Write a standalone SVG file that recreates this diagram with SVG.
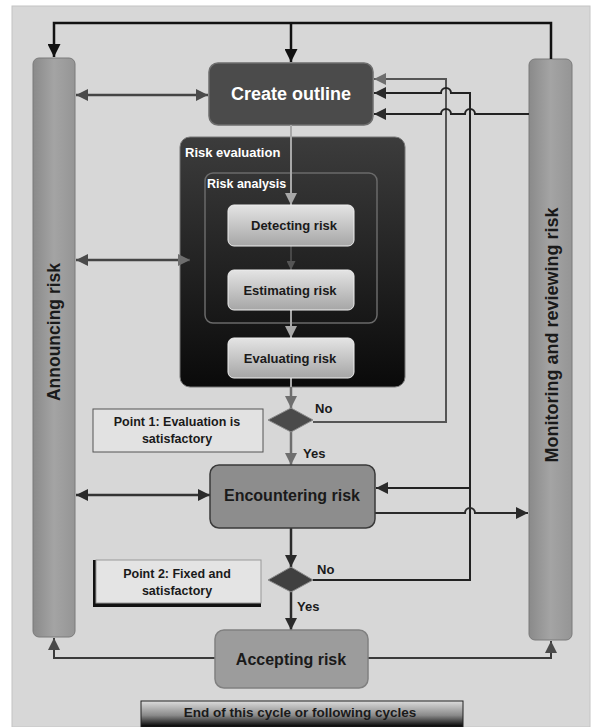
<svg xmlns="http://www.w3.org/2000/svg" width="593" height="727" viewBox="0 0 593 727">
<defs>
<style>
.t{font-family:"Liberation Sans",Arial,sans-serif;font-weight:bold;}
.w{fill:#ffffff;}
.d{fill:#1a1a1a;}
.c{fill:none;stroke-linejoin:miter;}
</style>
<linearGradient id="bar" x1="0" y1="0" x2="1" y2="0">
<stop offset="0" stop-color="#8a8a8a"/><stop offset="0.5" stop-color="#a4a4a4"/><stop offset="1" stop-color="#959595"/>
</linearGradient>
<linearGradient id="evalg" x1="0" y1="0" x2="0" y2="1">
<stop offset="0" stop-color="#3c3c3c"/><stop offset="1" stop-color="#0a0a0a"/>
</linearGradient>
<linearGradient id="inner" x1="0" y1="0" x2="0" y2="1">
<stop offset="0" stop-color="#e4e4e4"/><stop offset="1" stop-color="#a6a6a6"/>
</linearGradient>
<linearGradient id="endg" x1="0" y1="0" x2="0" y2="1">
<stop offset="0" stop-color="#dcdcdc"/><stop offset="0.55" stop-color="#8a8a8a"/><stop offset="1" stop-color="#000000"/>
</linearGradient>
<marker id="aK" viewBox="0 0 10 10" refX="10" refY="5" markerWidth="13" markerHeight="13" markerUnits="userSpaceOnUse" orient="auto-start-reverse"><path d="M0,0 L10,5 L0,10 z" fill="#111"/></marker>
<marker id="aD" viewBox="0 0 10 10" refX="10" refY="5" markerWidth="12" markerHeight="12" markerUnits="userSpaceOnUse" orient="auto-start-reverse"><path d="M0,0 L10,5 L0,10 z" fill="#2a2a2a"/></marker>
<marker id="aM" viewBox="0 0 10 10" refX="10" refY="5" markerWidth="12" markerHeight="12" markerUnits="userSpaceOnUse" orient="auto-start-reverse"><path d="M0,0 L10,5 L0,10 z" fill="#4a4a4a"/></marker>
<marker id="aG" viewBox="0 0 10 10" refX="10" refY="5" markerWidth="12" markerHeight="12" markerUnits="userSpaceOnUse" orient="auto-start-reverse"><path d="M0,0 L10,5 L0,10 z" fill="#6e6e6e"/></marker>
<marker id="aL" viewBox="0 0 10 10" refX="10" refY="5" markerWidth="12" markerHeight="12" markerUnits="userSpaceOnUse" orient="auto-start-reverse"><path d="M0,0 L10,5 L0,10 z" fill="#a8a8a8"/></marker>
<marker id="aS" viewBox="0 0 10 10" refX="10" refY="5" markerWidth="9" markerHeight="9" markerUnits="userSpaceOnUse" orient="auto-start-reverse"><path d="M0,0 L10,5 L0,10 z" fill="#555"/></marker>
</defs>
<rect x="0" y="0" width="593" height="727" fill="#ffffff"/>
<rect x="12" y="6" width="578" height="721" fill="#d7d7d7" stroke="#c4c4c4"/>

<g id="announcing">
<rect x="33" y="58" width="42" height="579" rx="6" fill="url(#bar)" stroke="#7a7a7a"/>
<text class="t d" font-size="17.5" transform="translate(54,332) rotate(-90)" text-anchor="middle" dominant-baseline="central">Announcing risk</text>
</g>
<g id="monitoring">
<rect x="529" y="59" width="43" height="581" rx="6" fill="url(#bar)" stroke="#7a7a7a"/>
<text class="t d" font-size="18" transform="translate(552,335) rotate(-90)" text-anchor="middle" dominant-baseline="central">Monitoring and reviewing risk</text>
</g>
<g id="create">
<rect x="209" y="63" width="164" height="62" rx="9" fill="#4b4b4b" stroke="#6e6e6e" stroke-width="1.5"/>
<text class="t w" font-size="18" x="291" y="100" text-anchor="middle">Create outline</text>
</g>
<g id="evaluation">
<rect x="180" y="137" width="225" height="250" rx="10" fill="url(#evalg)" stroke="#777" stroke-width="1"/>
<text class="t w" font-size="13" x="185" y="157">Risk evaluation</text>
</g>
<g id="analysis">
<rect x="205" y="173" width="172" height="150" rx="8" fill="none" stroke="#6a6a6a" stroke-width="1.5"/>
<text class="t w" font-size="12.5" x="207" y="188">Risk analysis</text>
</g>

<g id="connectors">
<path class="c" d="M551 59 V23 H54 V57" stroke="#111" stroke-width="2.5" marker-end="url(#aK)"/>
<path class="c" d="M291 23 V62" stroke="#111" stroke-width="2.5" marker-end="url(#aK)"/>
<path class="c" d="M76 95 H208" stroke="#444" stroke-width="2.5" marker-start="url(#aM)" marker-end="url(#aM)"/>
<path class="c" d="M76 260 H190" stroke="#444" stroke-width="2.5" marker-start="url(#aM)" marker-end="url(#aG)"/>
<path class="c" d="M76 495 H210" stroke="#333" stroke-width="2.5" marker-start="url(#aD)" marker-end="url(#aD)"/>
<path class="c" d="M291 125 V205" stroke="#a8a8a8" stroke-width="2" marker-end="url(#aL)"/>
<path class="c" d="M291 246 V270" stroke="#555" stroke-width="1.5" marker-end="url(#aS)"/>
<path class="c" d="M291 310 V338" stroke="#a8a8a8" stroke-width="2" marker-end="url(#aL)"/>
<path class="c" d="M291 378 V387" stroke="#a8a8a8" stroke-width="2"/>
<path class="c" d="M291 387 V408" stroke="#6e6e6e" stroke-width="2.5" marker-end="url(#aG)"/>
<path class="c" d="M291 432 V465" stroke="#6e6e6e" stroke-width="2.5" marker-end="url(#aG)"/>
<path class="c" d="M313 422 H446 V79 H374" stroke="#555" stroke-width="2" marker-end="url(#aG)"/>
<path class="c" d="M313 580 H470 V93 H451 A5 5 0 0 0 441 93 H374" stroke="#222" stroke-width="2" marker-end="url(#aD)"/>
<path class="c" d="M470 488 H376" stroke="#222" stroke-width="2" marker-end="url(#aD)"/>
<path class="c" d="M529 114 H475 A5 5 0 0 0 465 114 H451 A5 5 0 0 0 441 114 H374" stroke="#222" stroke-width="2" marker-end="url(#aD)"/>
<path class="c" d="M375 513 H465 A5 5 0 0 1 475 513 H528" stroke="#2a2a2a" stroke-width="2" marker-end="url(#aD)"/>
<path class="c" d="M291 528 V567" stroke="#2a2a2a" stroke-width="2.5" marker-end="url(#aD)"/>
<path class="c" d="M291 592 V630" stroke="#2a2a2a" stroke-width="2.5" marker-end="url(#aD)"/>
<path class="c" d="M215 658 H54 V638" stroke="#3a3a3a" stroke-width="2" marker-end="url(#aM)"/>
<path class="c" d="M368 658 H551 V641" stroke="#3a3a3a" stroke-width="2" marker-end="url(#aM)"/>
</g>

<g id="detecting">
<rect x="228" y="205" width="126" height="41" rx="6" fill="url(#inner)" stroke="#eeeeee"/>
<text class="t d" font-size="13" x="294" y="230" text-anchor="middle">Detecting risk</text>
</g>
<g id="estimating">
<rect x="228" y="270" width="126" height="40" rx="6" fill="url(#inner)" stroke="#eeeeee"/>
<text class="t d" font-size="13" x="290" y="295" text-anchor="middle">Estimating risk</text>
</g>
<g id="evaluating">
<rect x="228" y="338" width="126" height="40" rx="6" fill="url(#inner)" stroke="#eeeeee"/>
<text class="t d" font-size="13" x="290" y="363" text-anchor="middle">Evaluating risk</text>
</g>
<g id="decision1">
<polygon points="291,408 313,420 291,432 268,420" fill="#4a4a4a" stroke="#8a8a8a"/>
<text class="t d" font-size="13" x="315" y="413">No</text>
<text class="t d" font-size="13" x="303" y="458">Yes</text>
</g>
<g id="point1">
<rect x="93" y="409" width="170" height="43" fill="#e2e2e2" stroke="#555"/>
<text class="t d" font-size="12.5" x="177" y="426" text-anchor="middle">Point 1: Evaluation is</text>
<text class="t d" font-size="12.5" x="177" y="443" text-anchor="middle">satisfactory</text>
</g>
<g id="encountering">
<rect x="210" y="465" width="165" height="63" rx="9" fill="#8d8d8d" stroke="#3a3a3a" stroke-width="1.5"/>
<text class="t d" font-size="16" x="292" y="501" text-anchor="middle">Encountering risk</text>
</g>
<g id="decision2">
<polygon points="291,567 313,580 291,592 268,580" fill="#404040" stroke="#8a8a8a"/>
<text class="t d" font-size="13" x="317" y="574">No</text>
<text class="t d" font-size="13" x="297" y="611">Yes</text>
</g>
<g id="point2">
<rect x="93" y="560" width="168" height="47" fill="#111"/>
<rect x="96" y="560" width="165" height="43" fill="#e4e4e4" stroke="#999"/>
<text class="t d" font-size="12.5" x="177" y="578" text-anchor="middle">Point 2: Fixed and</text>
<text class="t d" font-size="12.5" x="177" y="595" text-anchor="middle">satisfactory</text>
</g>
<g id="accepting">
<rect x="215" y="630" width="153" height="58" rx="9" fill="#9c9c9c" stroke="#808080" stroke-width="1.5"/>
<text class="t d" font-size="16" x="291" y="665" text-anchor="middle">Accepting risk</text>
</g>
<g id="end">
<rect x="141" y="701" width="322" height="26" fill="url(#endg)" stroke="#222" stroke-width="1"/>
<text class="t d" font-size="13.5" x="300" y="717" text-anchor="middle">End of this cycle or following cycles</text>
</g>
</svg>
